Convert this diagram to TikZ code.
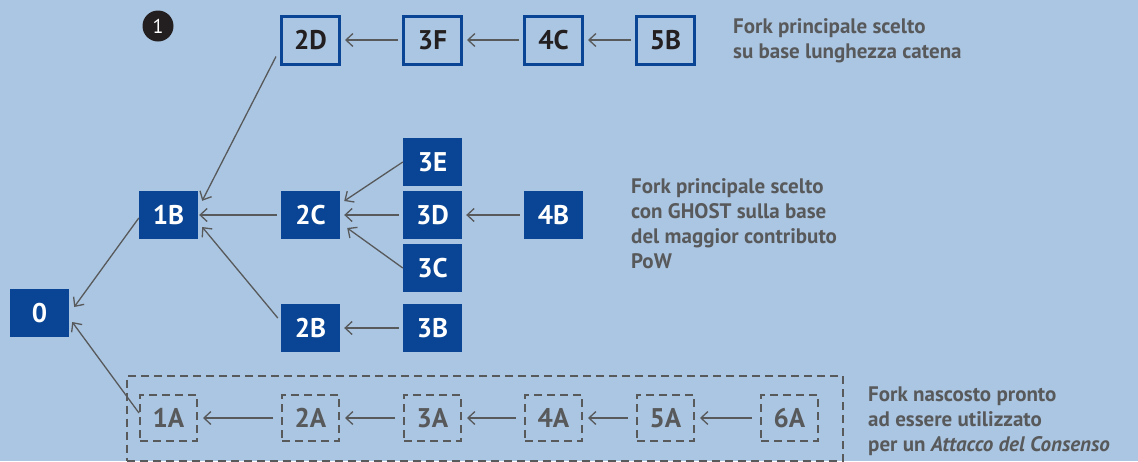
\documentclass[tikz,border=0pt]{standalone}
\usepackage{fontspec}
\setmainfont{PT Sans}
\usetikzlibrary{arrows.meta,calc}
\definecolor{bg}{RGB}{171,198,226}
\definecolor{boxblue}{RGB}{9,69,148}
\definecolor{linegray}{RGB}{88,89,91}
\definecolor{darktext}{RGB}{35,31,32}
\tikzset{
  lbl/.style={font=\bfseries\fontsize{27}{27}\selectfont},
  solidbox/.style={lbl, fill=boxblue, text=white, minimum width=59pt, minimum height=48pt, inner sep=0pt},
  outlinebox/.style={lbl, draw=boxblue, line width=3pt, text=darktext, minimum width=58pt, minimum height=48pt, inner sep=0pt},
  dashbox/.style={lbl, draw=linegray, line width=2pt, dash pattern=on 8pt off 5pt, text=linegray, minimum width=57pt, minimum height=46pt, inner sep=0pt},
  conn/.style={draw=linegray, line width=1.3pt, -{Straight Barb[length=7pt,width=13pt,line width=1.3pt]}},
  desc/.style={text=linegray, align=left, anchor=west, inner sep=0pt, font=\bfseries\fontsize{21}{25}\selectfont},
}
\begin{document}
\begin{tikzpicture}[x=1pt,y=-1pt]
\useasboundingbox[fill=bg] (0,0) rectangle (1138,461);
% circle marker
\node[circle, fill=darktext, minimum size=31pt, inner sep=0pt, text=white, font=\fontsize{20}{20}\selectfont\rmfamily] (mark) at (158,26) {1};
% top row
\node[outlinebox] (2D) at (310.5,40) {2D};
\node[outlinebox] (3F) at (432.5,40) {3F};
\node[outlinebox] (4C) at (553.5,40) {4C};
\node[outlinebox] (5B) at (665.5,40) {5B};
% middle
\node[solidbox] (0) at (39.5,313) {0};
\node[solidbox] (1B) at (168.5,215) {1B};
\node[solidbox] (2C) at (310.5,215) {2C};
\node[solidbox] (2B) at (310.5,328) {2B};
\node[solidbox] (3E) at (432.5,162) {3E};
\node[solidbox] (3D) at (432.5,215) {3D};
\node[solidbox] (3C) at (432.5,268) {3C};
\node[solidbox] (3B) at (432.5,328) {3B};
\node[solidbox] (4B) at (553.5,215) {4B};
% hidden fork
\node[draw=linegray, line width=2pt, dash pattern=on 8pt off 5pt, minimum width=716pt, minimum height=85pt, inner sep=0pt] (hidden) at (485,418) {};
\node[dashbox] (1A) at (168.5,418) {1A};
\node[dashbox] (2A) at (310.5,418) {2A};
\node[dashbox] (3A) at (432.5,418) {3A};
\node[dashbox] (4A) at (553.5,418) {4A};
\node[dashbox] (5A) at (665.5,418) {5A};
\node[dashbox] (6A) at (789.5,418) {6A};
% texts
\node[desc] (t1) at (733,41) {Fork principale scelto\\su base lunghezza catena};
\node[desc] (t2) at (631,223.5) {Fork principale scelto\\con GHOST sulla base\\del maggior contributo\\PoW};
\node[desc] (t3) at (868,421.5) {Fork nascosto pronto\\ad essere utilizzato\\per un \textit{Attacco del Consenso}};
% connectors top
\draw[conn, shorten <=4pt, shorten >=4pt] (3F.west) -- (2D.east);
\draw[conn, shorten <=4pt, shorten >=4pt] (4C.west) -- (3F.east);
\draw[conn, shorten <=4pt, shorten >=4pt] (5B.west) -- (4C.east);
% middle connectors
\draw[conn] ([xshift=-4pt,yshift=9pt]2D.south west) -- ([xshift=4pt,yshift=-10pt]1B.north east);
\draw[conn, shorten <=4pt, shorten >=1pt] (2C.west) -- (1B.east);
\draw[conn] ([xshift=-3pt,yshift=10pt]2B.west) -- ([xshift=4pt,yshift=-12pt]1B.east);
\draw[conn] ([yshift=-3pt]1B.west) -- ([xshift=5pt,yshift=6pt]0.east);
\draw[conn] ([yshift=5pt]1A.west) -- ([xshift=3pt,yshift=-9pt]0.east);
\draw[conn] (3E.west) -- ([xshift=4pt,yshift=14pt]2C.east);
\draw[conn, shorten <=4pt, shorten >=4pt] (3D.west) -- (2C.east);
\draw[conn] (3C.west) -- ([xshift=7pt,yshift=-13pt]2C.east);
\draw[conn, shorten <=4pt, shorten >=4pt] (3B.west) -- (2B.east);
\draw[conn, shorten <=4pt, shorten >=4pt] (4B.west) -- (3D.east);
% hidden row connectors
\draw[conn, shorten <=8pt, shorten >=5pt] (2A.west) -- (1A.east);
\draw[conn, shorten <=8pt, shorten >=5pt] (3A.west) -- (2A.east);
\draw[conn, shorten <=8pt, shorten >=5pt] (4A.west) -- (3A.east);
\draw[conn, shorten <=8pt, shorten >=5pt] (5A.west) -- (4A.east);
\draw[conn, shorten <=8pt, shorten >=5pt] (6A.west) -- (5A.east);
\end{tikzpicture}
\end{document}
